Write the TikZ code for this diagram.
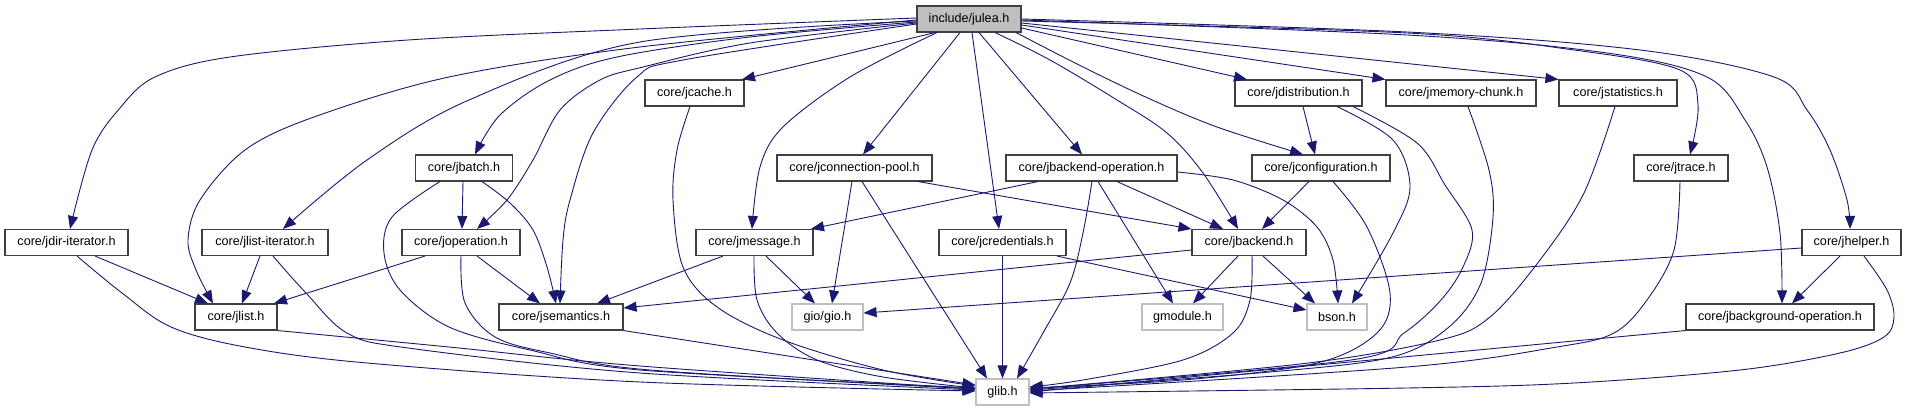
\documentclass[tikz,border=0pt]{standalone}
\usepackage{fontspec}
\setmainfont{Liberation Sans}
\usetikzlibrary{arrows.meta}
\definecolor{edgeblue}{HTML}{191970}
\definecolor{greyfill}{HTML}{BFBFBF}
\definecolor{boxborder}{HTML}{404040}
\begin{document}
\begin{tikzpicture}[x=1pt,y=-1pt,
  box/.style={draw=boxborder, line width=1.1pt, fill=white, minimum height=26pt, inner sep=0pt, font=\fontsize{12.6}{15}\selectfont, anchor=center},
  ext/.style={box, draw=greyfill},
  root/.style={box, fill=greyfill},
  dep/.style={draw=edgeblue, line width=0.9pt, -{Triangle[length=13pt,width=10pt]}},
  sm/.style={smooth, tension=0.55}
]
\useasboundingbox (0,0) rectangle (1907,411);

\node[root, minimum width=104pt] (julea) at (969,19) {include/julea.h};
\node[box, minimum width=99pt] (jcache) at (694.5,93) {core/jcache.h};
\node[box, minimum width=127pt] (jdist) at (1298.5,93) {core/jdistribution.h};
\node[box, minimum width=150pt] (jmem) at (1461,93) {core/jmemory-chunk.h};
\node[box, minimum width=118pt] (jstat) at (1618,93) {core/jstatistics.h};
\node[box, minimum width=97pt] (jbatch) at (464,168) {core/jbatch.h};
\node[box, minimum width=155pt] (jconn) at (854.5,168) {core/jconnection-pool.h};
\node[box, minimum width=171pt] (jbop) at (1091.5,168) {core/jbackend-operation.h};
\node[box, minimum width=138pt] (jconf) at (1321,168) {core/jconfiguration.h};
\node[box, minimum width=94pt] (jtrace) at (1681,168) {core/jtrace.h};
\node[box, minimum width=123pt] (jdir) at (66.5,242.5) {core/jdir-iterator.h};
\node[box, minimum width=126pt] (jlistit) at (265,242.5) {core/jlist-iterator.h};
\node[box, minimum width=118pt] (joper) at (461,242.5) {core/joperation.h};
\node[box, minimum width=117pt] (jmsg) at (754.5,242.5) {core/jmessage.h};
\node[box, minimum width=127pt] (jcred) at (1002.5,242.5) {core/jcredentials.h};
\node[box, minimum width=114pt] (jback) at (1249,242.5) {core/jbackend.h};
\node[box, minimum width=99pt] (jhelp) at (1851.5,242.5) {core/jhelper.h};
\node[box, minimum width=82pt] (jlist) at (236,317) {core/jlist.h};
\node[box, minimum width=124pt] (jsem) at (561,317) {core/jsemantics.h};
\node[ext, minimum width=71pt] (gio) at (827.5,317) {gio/gio.h};
\node[ext, minimum width=81pt] (gmod) at (1182.5,317) {gmodule.h};
\node[ext, minimum width=60pt] (bson) at (1337,317) {bson.h};
\node[box, minimum width=188pt] (jbg) at (1780,317) {core/jbackground-operation.h};
\node[ext, minimum width=53pt] (glib) at (1002.5,392) {glib.h};

% from julea
\draw[dep] plot[sm] coordinates {(julea.west |- 0,18) (640,29) (408,40) (230,57) (155,77) (120,108) (92,150) (jdir.north -| 70,0)};
\draw[dep] plot[sm] coordinates {(julea.west |- 0,20) (640,47) (449,77) (314,117) (245,150) (200,200) (188,240) (196,270) (jlist.north -| 213,0)};
\draw[dep] plot[sm] coordinates {(julea.west |- 0,21) (640,42) (469,100) (367,160) (jlistit.north -| 283,0)};
\draw[dep] plot[sm] coordinates {(julea.west |- 0,22) (750,37) (617,57) (550,80) (500,115) (jbatch.north -| 475,0)};
\draw[dep] plot[sm] coordinates {(julea.west |- 0,23) (750,43) (643,67) (600,80) (560,110) (533,160) (507,200) (joper.north -| 477,0)};
\draw[dep] plot[sm] coordinates {(julea.west |- 0,24) (683,60) (637,77) (593,133) (570,200) (563,240) (jsem.north -| 560,0)};
\draw[dep] (julea.south -| 935,0) -- (jcache.north -| 742,0);
\draw[dep] plot[sm] coordinates {(julea.south -| 937,0) (850,77) (783,127) (760,167) (jmsg.north -| 752,0)};
\draw[dep] (julea.south -| 960,0) -- (jconn.north -| 863,0);
\draw[dep] (julea.south -| 972,0) -- (jcred.north -| 999,0);
\draw[dep] (julea.south -| 979,0) -- (jbop.north -| 1082,0);
\draw[dep] plot[sm] coordinates {(julea.south -| 995,0) (1050,60) (1117,100) (1167,133) (1203,173) (jback.north -| 1238,0)};
\draw[dep] plot[sm] coordinates {(julea.south -| 1016,0) (1083,67) (1150,99) (1217,127) (jconf.north -| 1303,0)};
\draw[dep] (julea.east |- 0,28) -- (jdist.north -| 1247,0);
\draw[dep] (julea.east |- 0,25) -- (jmem.north west);
\draw[dep] (julea.east |- 0,23) -- (jstat.north west);
\draw[dep] plot[sm] coordinates {(julea.east |- 0,21) (1407,33) (1574,50) (1680,70) (1698,105) (jtrace.north -| 1690,0)};
\draw[dep] plot[sm] coordinates {(julea.east |- 0,20) (1407,35) (1607,53) (1707,77) (1745,120) (1767,167) (1780,233) (jbg.north -| 1782,0)};
\draw[dep] plot[sm] coordinates {(julea.east |- 0,19) (1407,32) (1640,50) (1774,77) (1807,110) (1830,150) (1847,200) (jhelp.north -| 1850,0)};

% into glib
\draw[dep] plot[sm] coordinates {(jdir.south -| 77,0) (122,293) (171,327) (245,347) (367,363) (640,382) (glib.west |- 0,391)};
\draw[dep] plot[sm] coordinates {(jlist.south east) (449,347) (640,366) (glib.west |- 0,389)};
\draw[dep] plot[sm] coordinates {(jlistit.south -| 273,0) (306,293) (347,333) (408,348) (640,373) (glib.west |- 0,390)};
\draw[dep] plot[sm] coordinates {(jbatch.south -| 440,0) (392,217) (384,253) (400,290) (449,327) (530,350) (640,370) (glib.west |- 0,388)};
\draw[dep] plot[sm] coordinates {(joper.south -| 461,0) (465,303) (495,337) (550,353) (650,370) (glib.west |- 0,389)};
\draw[dep] (jsem.south east) -- (glib.west |- 0,385);
\draw[dep] plot[sm] coordinates {(jcache.south -| 690,0) (677,150) (673,200) (683,267) (717,307) (783,340) (883,370) (glib.west |- 0,386)};
\draw[dep] plot[sm] coordinates {(jmsg.south -| 754,0) (757,300) (777,333) (817,360) (883,377) (glib.west |- 0,388)};
\draw[dep] (jconn.south -| 862,0) -- (glib.north -| 987,0);
\draw[dep] (jcred.south) -- (glib.north);
\draw[dep] plot[sm] coordinates {(jbop.south -| 1092,0) (1083,233) (1070,283) (1043,333) (glib.north -| 1017,0)};
\draw[dep] plot[sm] coordinates {(jback.south -| 1252,0) (1250,300) (1233,333) (1183,360) (1083,380) (glib.east |- 0,387)};
\draw[dep] plot[sm] coordinates {(jconf.south -| 1333,0) (1367,227) (1390,293) (1377,333) (1317,363) (1183,380) (glib.east |- 0,388)};
\draw[dep] plot[sm] coordinates {(jdist.south -| 1353,0) (1417,143) (1445,185) (1472,230) (1463,267) (1441,300) (1404,333) (1351,360) (glib.east |- 0,389)};
\draw[dep] plot[sm] coordinates {(jmem.south -| 1468,0) (1489,170) (1493,217) (1481,283) (1449,327) (1392,357) (1270,372) (glib.east |- 0,390)};
\draw[dep] plot[sm] coordinates {(jstat.south -| 1615,0) (1584,193) (1540,260) (1490,317) (1440,340) (1300,364) (glib.east |- 0,389)};
\draw[dep] plot[sm] coordinates {(jtrace.south -| 1680,0) (1674,250) (1647,300) (1614,333) (1557,347) (1407,367) (glib.east |- 0,391)};
\draw[dep] (jbg.south west) -- (glib.east |- 0,392);
\draw[dep] plot[sm] coordinates {(jhelp.south -| 1864,0) (1887,290) (1894,317) (1884,337) (1840,353) (1740,370) (1574,383) (1407,388) (glib.east |- 0,393)};

% others
\draw[dep] (jdir.south -| 95,0) -- (jlist.north -| 208,0);
\draw[dep] (jlistit.south -| 260,0) -- (jlist.north -| 242,0);
\draw[dep] (joper.south -| 425,0) -- (jlist.north -| 274,0);
\draw[dep] (jbatch.south -| 463,0) -- (joper.north -| 462,0);
\draw[dep] plot[sm] coordinates {(jbatch.south -| 482,0) (510,203) (533,230) (547,267) (jsem.north -| 556,0)};
\draw[dep] (joper.south -| 477,0) -- (jsem.north -| 540,0);
\draw[dep] (jmsg.south -| 723,0) -- (jsem.north -| 597,0);
\draw[dep] (jmsg.south -| 766,0) -- (gio.north -| 815,0);
\draw[dep] (jconn.south -| 852,0) -- (gio.north -| 832,0);
\draw[dep] (jconn.south -| 918,0) -- (jback.north west);
\draw[dep] (jbop.south -| 1038,0) -- (jmsg.north -| 811,0);
\draw[dep] (jbop.south -| 1117,0) -- (jback.north -| 1223,0);
\draw[dep] (jbop.south -| 1098,0) -- (gmod.north -| 1173,0);
\draw[dep] plot[sm] coordinates {(jbop.east |- 0,172) (1233,180) (1283,200) (1317,227) (1333,260) (bson.north -| 1338,0)};
\draw[dep] (jcred.south -| 1057,0) -- (bson.west |- 0,310);
\draw[dep] (jback.west |- 0,250) -- (jsem.east |- 0,308);
\draw[dep] (jback.south -| 1238,0) -- (gmod.north -| 1193,0);
\draw[dep] (jback.south -| 1263,0) -- (bson.north -| 1315,0);
\draw[dep] (jconf.south -| 1309,0) -- (jback.north -| 1262,0);
\draw[dep] (jdist.south -| 1303,0) -- (jconf.north -| 1315,0);
\draw[dep] plot[sm] coordinates {(jdist.south -| 1337,0) (1393,140) (1410,187) (1393,233) (bson.north -| 1352,0)};
\draw[dep] (jhelp.west |- 0,248) -- (gio.east |- 0,313);
\draw[dep] (jhelp.south -| 1840,0) -- (jbg.north -| 1792,0);
\end{tikzpicture}
\end{document}
